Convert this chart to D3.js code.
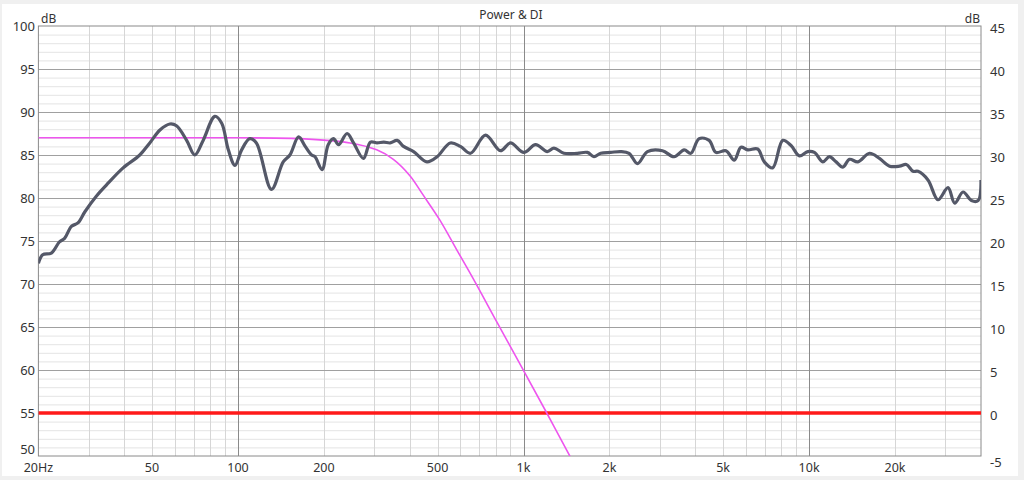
<!DOCTYPE html>
<html><head><meta charset="utf-8">
<script src="https://cdn.jsdelivr.net/npm/d3@7"></script>
<style>
html,body{margin:0;padding:0;background:#f0f0f0;}
svg{display:block;}
text{font-family:"Noto Sans","Open Sans",sans-serif;fill:#333;}
</style></head>
<body>
<script>
// ---- data ----
const powerFreq = [20,20.7,22.2,23.7,24.7,26.1,27.5,29.1,31.9,34.6,39.6,45.3,49.1,53.3,57.7,60.9,66.1,70.6,75.5,83.0,87.7,92.5,97.6,103,110,116,131,144,152,163,172,181,186,197,207,216,225,241,254,275,291,307,324,341,361,380,412,459,498,554,601,652,736,830,900,1002,1102,1211,1278,1385,1543,1673,1765,1863,2020,2190,2342,2506,2716,3066,3368,3652,3854,4122,4468,4716,5114,5468,5772,6094,6606,6968,7456,8088,8646,9246,9896,10438,11170,11782,12438,13130,13850,14820,16280,17644,19130,20740,21900,23120,24060,26080,28280,30660,32360,34620,37020,39080,40000];
const powerDb = [72.4,73.4,73.6,74.9,75.3,76.7,77.1,78.4,80.2,81.5,83.5,85.0,86.4,87.9,88.6,88.4,86.7,85.0,86.7,89.5,88.7,85.6,83.8,85.6,86.9,86.4,81.0,84.2,85.0,87.1,86.0,85.0,84.8,83.3,86.2,86.9,86.2,87.5,86.4,84.6,86.5,86.4,86.5,86.4,86.7,86.0,85.4,84.2,84.8,86.4,86.0,85.2,87.3,85.5,86.4,85.3,86.2,85.4,85.8,85.2,85.2,85.3,84.8,85.2,85.3,85.4,85.2,84.0,85.4,85.5,84.8,85.6,85.2,86.9,86.7,85.3,85.5,84.4,85.9,85.6,85.7,84.2,83.5,86.7,86.1,84.9,85.4,85.3,84.2,84.8,84.2,83.6,84.5,84.2,85.2,84.6,83.7,83.7,83.9,83.1,83.1,82.1,79.8,81.2,79.4,80.7,79.7,79.7,82.1];
const filterFreq = [20,50,100,165,247,306,350,400,446,510,583,667,806,994,1206,1447,1600];
const filterDb = [87.0,87.0,87.0,86.9,86.4,85.6,84.5,82.6,80.3,77.4,74.0,70.6,65.6,60.1,55.0,50.1,47.3];
const diFreq = [20,40000];
const diDb = [0,0];
const leftTicks = [100,95,90,85,80,75,70,65,60,55,50];
const rightTicks = [45,40,35,30,25,20,15,10,5,0,-5];
const xTickValues = [20,50,100,200,500,1000,2000,5000,10000,20000];
const xTickLabels = ["20Hz","50","100","200","500","1k","2k","5k","10k","20k"];
const title = "Power & DI";

// ---- layout ----
const W = 1024, H = 480;
const L = 38.4, R = 981, T = 26, B = 456;

const svg = d3.select("body").append("svg").attr("width", W).attr("height", H);
svg.append("rect").attr("x",2).attr("y",4).attr("width",1016).attr("height",472).attr("fill","#fff");

const x = d3.scaleLog().domain([20,40000]).range([L,R]);
const yL = d3.scaleLinear().domain([50,100]).range([B,T]);
const yR = d3.scaleLinear().domain([-5,45]).range([B,T]);

const g = svg.append("g");
// minor horizontal (1 dB)
const minorY = d3.range(51,100).filter(v => v%5!==0);
g.selectAll(".hm").data(minorY).enter().append("line")
  .attr("x1",L).attr("x2",R).attr("y1",d=>yL(d)+0.5).attr("y2",d=>yL(d)+0.5)
  .attr("stroke","#e4e4e4").attr("stroke-width",1);
// vertical grid
const vTicks = [];
[10,100,1000,10000].forEach(dec => { for(let k=1;k<10;k++){ const f=dec*k; if(f>20 && f<40000) vTicks.push(f);} });
g.selectAll(".vm").data(vTicks.filter(f=>![100,1000,10000].includes(f))).enter().append("line")
  .attr("y1",T).attr("y2",B).attr("x1",d=>Math.round(x(d))+0.5).attr("x2",d=>Math.round(x(d))+0.5)
  .attr("stroke","#d6d6d6").attr("stroke-width",1);
// major horizontal (5 dB)
g.selectAll(".hM").data(leftTicks.filter(v=>v>50 && v<100)).enter().append("line")
  .attr("x1",L).attr("x2",R).attr("y1",d=>Math.round(yL(d))+0.5).attr("y2",d=>Math.round(yL(d))+0.5)
  .attr("stroke","#a0a0a0").attr("stroke-width",1);
// decade lines
g.selectAll(".vM").data([100,1000,10000]).enter().append("line")
  .attr("y1",T).attr("y2",B).attr("x1",d=>Math.round(x(d))+0.5).attr("x2",d=>Math.round(x(d))+0.5)
  .attr("stroke","#8a8a8a").attr("stroke-width",1);
// border
g.append("rect").attr("x",L).attr("y",T).attr("width",R-L).attr("height",B-T)
  .attr("fill","none").attr("stroke","#8a8a8a").attr("stroke-width",1);

// clip
svg.append("clipPath").attr("id","clip").append("rect").attr("x",L).attr("y",T).attr("width",R-L).attr("height",B-T);
const plot = svg.append("g").attr("clip-path","url(#clip)");

// DI line (right axis)
plot.append("path").datum(diFreq.map((f,i)=>[f,diDb[i]]))
  .attr("d", d3.line().x(d=>x(d[0])).y(d=>yR(d[1])))
  .attr("fill","none").attr("stroke","#ff1a1a").attr("stroke-width",3.5);

// filter curve
plot.append("path").datum(filterFreq.map((f,i)=>[f,filterDb[i]]))
  .attr("d", d3.line().x(d=>x(d[0])).y(d=>yL(d[1])).curve(d3.curveCatmullRom.alpha(0.5)))
  .attr("fill","none").attr("stroke","#ee55ee").attr("stroke-width",1.6);

// power curve
plot.append("path").datum(powerFreq.map((f,i)=>[f,powerDb[i]]))
  .attr("d", d3.line().x(d=>x(d[0])).y(d=>yL(d[1])).curve(d3.curveCatmullRom.alpha(0.5)))
  .attr("fill","none").attr("stroke","#545868").attr("stroke-width",3.2)
  .attr("stroke-linejoin","round");

// axes labels
svg.selectAll(".lt").data(leftTicks).enter().append("text")
  .attr("x",35).attr("y",d=>yL(d)-(d===50?7:0)).attr("text-anchor","end").attr("dominant-baseline","central")
  .attr("font-size",13).text(d=>d);
svg.selectAll(".rt").data(rightTicks).enter().append("text")
  .attr("x",990).attr("y",d=>yR(d)+(d===-5?6:1.5)).attr("text-anchor","start").attr("dominant-baseline","central")
  .attr("font-size",13).text(d=>d);
svg.selectAll(".xt").data(xTickValues).enter().append("text")
  .attr("x",d=>x(d)).attr("y",467).attr("text-anchor","middle").attr("dominant-baseline","central")
  .attr("font-size",12.5).text((d,i)=>xTickLabels[i]);

svg.append("text").attr("x",41).attr("y",18).attr("font-size",12).attr("dominant-baseline","central").text("dB");
svg.append("text").attr("x",980).attr("y",18).attr("font-size",12).attr("text-anchor","end").attr("dominant-baseline","central").text("dB");
svg.append("text").attr("x",511).attr("y",14).attr("font-size",12).attr("text-anchor","middle").attr("dominant-baseline","central").text(title);
</script>
</body></html>
